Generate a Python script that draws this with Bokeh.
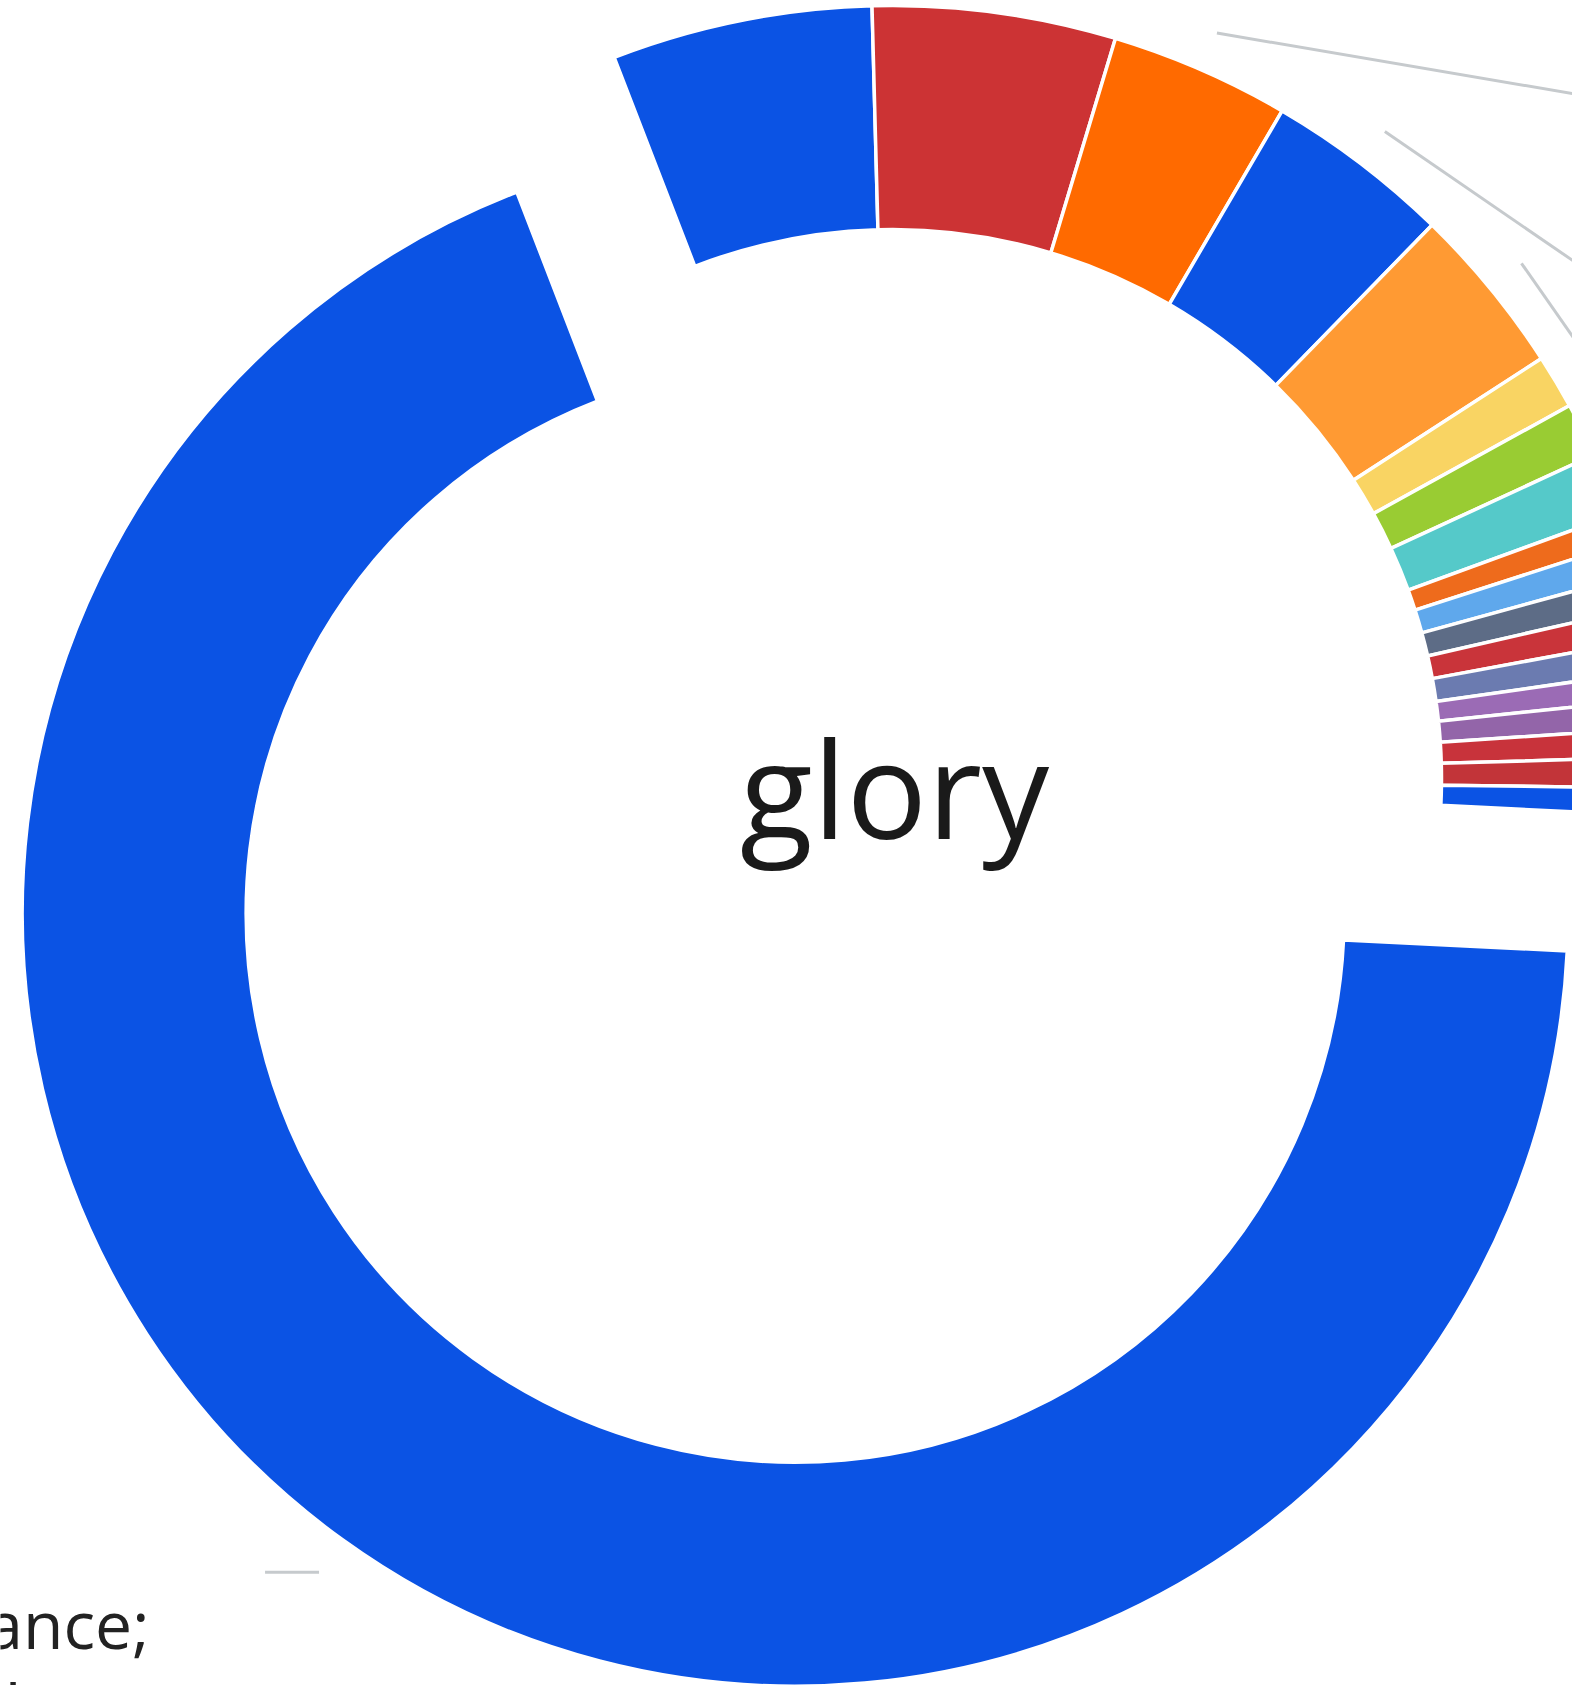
import math
from bokeh.plotting import figure
from bokeh.models import Range1d, ColumnDataSource, Label
from bokeh.core.properties import value
from bokeh.embed import file_html
from bokeh.resources import INLINE

# ---------------- data ----------------
categories = ["glory (main)", "s02", "s03", "s04", "s05", "s06", "s07", "s08", "s09",
              "s10", "s11", "s12", "s13", "s14", "s15", "s16", "s17", "s18", "s19"]
shares = [68.36, 5.44, 5.08, 3.75, 3.89, 3.56, 1.13, 1.13, 1.31,
          0.61, 0.69, 0.69, 0.67, 0.67, 0.58, 0.61, 0.61, 0.64, 0.58]
colors = ["#0b53e4", "#0b53e4", "#cc3334", "#ff6a00", "#0b53e4", "#ff9a33", "#f9d463",
          "#99cc33", "#55c9c9", "#ee6b1c", "#5fa8ec", "#5d6c86", "#c9343a", "#6b7bb0",
          "#9b6bb5", "#9365a9", "#c8333b", "#c23439", "#0b53e4"]
pulled = [True] + [False] * 18
center_label = "glory"
side_label_lines = ["ance;", "al"]   # visible (cropped) parts of the main slice label

# ---------------- layout / style ----------------
IMG_W, IMG_H = 1588, 1701
FIG_W, FIG_H = 1572, 1685
CX, CY_IMG = 900, 786          # pie centre (image pixels)
R_OUT, R_IN = 773, 549
START_DEG = -2.8               # first slice starts here, clockwise
PULL = 0.215
LABEL_GAP = 40
TEXT_X, TEXT_Y_IMG = 902, 794
SIDE_X = [157, 29]
SIDE_BASE_IMG = [1630, 1713]

def up(y_img):
    return IMG_H - y_img

CY = up(CY_IMG)

p = figure(width=FIG_W, height=FIG_H, output_backend="svg", toolbar_location=None,
           x_range=Range1d(8, 8 + FIG_W), y_range=Range1d(up(8 + FIG_H), up(8)),
           min_border=0, outline_line_color=None, background_fill_color="white",
           border_fill_color="white")
p.axis.visible = False
p.grid.visible = False

total = sum(shares)
xs, ys, a0s, a1s, mids = [], [], [], [], []
cum = 0.0
for v, pl in zip(shares, pulled):
    a0 = START_DEG - cum / total * 360.0
    a1 = a0 - v / total * 360.0
    mid = math.radians((a0 + a1) / 2)
    off = PULL * R_OUT if pl else 0.0
    xs.append(CX + off * math.cos(mid))
    ys.append(CY + off * math.sin(mid))
    a0s.append(math.radians(a0))
    a1s.append(math.radians(a1))
    mids.append(mid)
    cum += v

src = ColumnDataSource(dict(x=xs, y=ys, start=a0s, end=a1s, color=colors, cat=categories))
p.annular_wedge(x="x", y="y", inner_radius=R_IN, outer_radius=R_OUT,
                start_angle="start", end_angle="end", direction="clock",
                fill_color="color", line_color="white", line_width=3.5, source=src)

# leader lines: (slice index, direction of the line towards its label, length)
leaders = [(0, (-1.0, 0.0), 54), (3, (364, -62), 600), (4, (201, -138), 600), (5, (63, -90), 600)]
lx, ly = [], []
for i, (dx, dy), ln in leaders:
    sx = xs[i] + (R_OUT + LABEL_GAP) * math.cos(mids[i])
    sy = ys[i] + (R_OUT + LABEL_GAP) * math.sin(mids[i])
    n = math.hypot(dx, dy)
    lx.append([sx, sx + dx / n * ln])
    ly.append([sy, sy + dy / n * ln])
p.multi_line(xs=lx, ys=ly, line_color="#c6cacd", line_width=3)

p.text(x=[TEXT_X], y=[up(TEXT_Y_IMG)], text=[center_label], text_font=value("Open Sans"),
       text_font_size="134px", text_align="center", text_baseline="middle",
       text_color="#1a1a1a")

for t, x, yb in zip(side_label_lines, SIDE_X, SIDE_BASE_IMG):
    p.add_layout(Label(x=x, y=up(yb), text=t, text_font="Open Sans",
                       text_font_size="66px", text_align="right",
                       text_baseline="alphabetic", text_color="#222222"))

open("out.html", "w").write(file_html(p, INLINE))
